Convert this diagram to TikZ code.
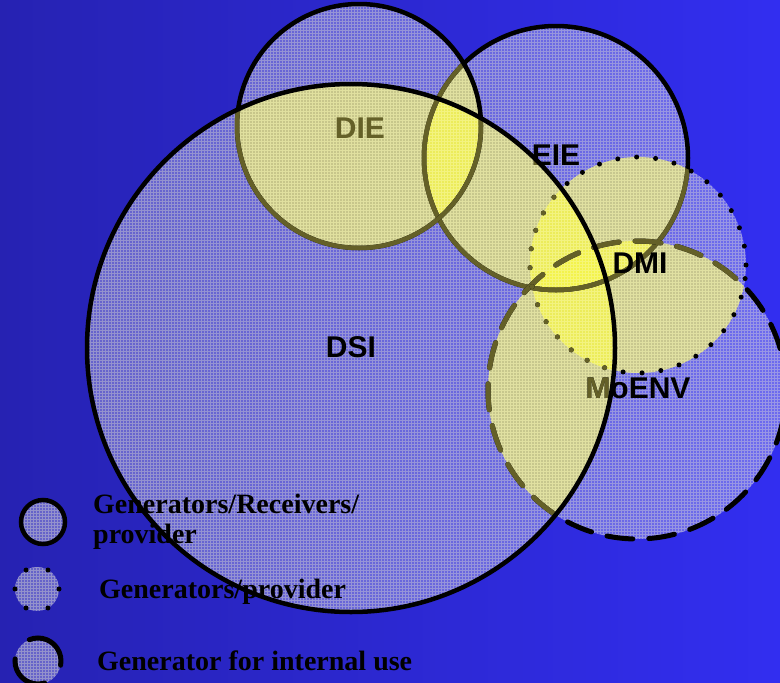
\documentclass[tikz,border=0pt]{standalone}
\usepackage{fontspec}
\setmainfont{Liberation Serif}
\setsansfont{Liberation Sans}

\definecolor{bgleft}{RGB}{38,34,178}
\definecolor{bgright}{RGB}{50,46,240}
\definecolor{setbase}{RGB}{215,215,238}
\definecolor{setgrid}{RGB}{255,255,210}
\definecolor{setover}{RGB}{245,245,70}
\definecolor{setdim}{RGB}{100,96,40}

\newcommand{\setEIE}{(556,158) circle[radius=132pt]}
\newcommand{\setDIE}{(359,126) circle[radius=122pt]}
\newcommand{\setMoENV}{(637,390) circle[radius=149pt]}
\newcommand{\setDMI}{(638,265) circle[radius=108pt]}
\newcommand{\setDSI}{(351,348) circle[radius=264pt]}

\begin{document}
\begin{tikzpicture}[x=1pt,y=-1pt]
			\tikzstyle{setfill}=[fill=setbase,fill opacity=0.36]
			\tikzstyle{setmesh}=[draw=setgrid,line width=0.6pt,draw opacity=0.3]
			\tikzstyle{overlap}=[fill=setover,fill opacity=0.55]
			\tikzstyle{solidset}=[draw=black,line width=4.5pt]
			\tikzstyle{dottedset}=[draw=black,line width=5pt,line cap=round,dash pattern=on 0pt off 19pt]
			\tikzstyle{dashedset}=[draw=black,line width=5pt,line cap=round,dash pattern=on 26pt off 16pt]
			\tikzstyle{setlabel}=[font=\sffamily\bfseries\fontsize{30}{30}\selectfont]
			\tikzstyle{legendtext}=[font=\bfseries\fontsize{28}{30}\selectfont,anchor=base west,inner sep=0pt]

			\useasboundingbox (0,0) rectangle (780,683);
			\shade[left color=bgleft,right color=bgright] (0,0) rectangle (780,683);

			% fills, back to front
			\fill[setfill] \setEIE;
			\begin{scope} \clip \setEIE; \draw[setmesh,step=3pt] (0,0) grid (780,683); \end{scope}

			\fill[setfill] \setDIE;
			\begin{scope} \clip \setDIE; \fill[overlap] \setEIE;
				\draw[setmesh,step=3pt] (0,0) grid (780,683); \end{scope}

			\fill[setfill] \setMoENV;
			\begin{scope} \clip \setMoENV; \fill[overlap] \setEIE;
				\draw[setmesh,step=3pt] (0,0) grid (780,683); \end{scope}

			\fill[setfill] \setDMI;
			\begin{scope} \clip \setDMI; \fill[overlap] \setEIE; \fill[overlap] \setMoENV;
				\draw[setmesh,step=3pt] (0,0) grid (780,683); \end{scope}

			\fill[setfill] \setDSI;
			\begin{scope} \clip \setDSI;
				\fill[overlap] \setEIE; \fill[overlap] \setDIE;
				\fill[overlap] \setMoENV; \fill[overlap] \setDMI;
				\draw[setmesh,step=3pt] (0,0) grid (780,683);
			\end{scope}

			% outlines and names, faded where a later set lies on top
			\draw[solidset] \setEIE;
			\node[setlabel] (lblEIE) at (556,155) {EIE};
			\begin{scope} \clip \setDIE; \draw[solidset,draw=setdim] \setEIE; \end{scope}
			\begin{scope} \clip \setMoENV; \draw[solidset,draw=setdim] \setEIE; \end{scope}
			\begin{scope} \clip \setDMI; \draw[solidset,draw=setdim] \setEIE; \end{scope}
			\begin{scope} \clip \setDSI; \draw[solidset,draw=setdim] \setEIE;
				\node[setlabel,text=setdim] (lblEIEdim) at (556,155) {EIE}; \end{scope}

			\draw[solidset] \setDIE;
			\begin{scope} \clip \setDSI; \draw[solidset,draw=setdim] \setDIE; \end{scope}
			\node[setlabel,text=setdim] (lblDIE) at (360,128) {DIE};

			\draw[dashedset] \setMoENV;
			\node[setlabel] (lblMoENV) at (638,388) {MoENV};
			\begin{scope} \clip \setDMI; \draw[dashedset,draw=setdim] \setMoENV; \end{scope}
			\begin{scope} \clip \setDSI; \draw[dashedset,draw=setdim] \setMoENV;
				\node[setlabel,text=setdim] (lblMoENVdim) at (638,388) {MoENV}; \end{scope}

			\draw[dottedset] \setDMI;
			\begin{scope} \clip \setDSI; \draw[dottedset,draw=setdim] \setDMI; \end{scope}
			\node[setlabel] (lblDMI) at (640,263) {DMI};

			\draw[solidset] \setDSI;
			\node[setlabel] (lblDSI) at (351,347) {DSI};

			% legend
			\foreach \cx/\cy/\r in {43/522/22,37/589/22,38/661/23}{
				\fill[setfill] (\cx,\cy) circle[radius=\r pt];
				\begin{scope} \clip (\cx,\cy) circle[radius=\r pt];
					\draw[setmesh,step=3pt] (0,480) grid (80,683); \end{scope}
			}
			\draw[solidset] (43,522) circle[radius=22pt];
			\draw[dottedset,dash pattern=on 0pt off 23pt] (37,589) circle[radius=22pt];
			\draw[dashedset,dash pattern=on 45pt off 25pt] (38,661) circle[radius=23pt];

			\node[legendtext] (legAll) at (93,513) {Generators/Receivers/};
			\node[legendtext] (legAllb) at (93,543) {provider};
			\node[legendtext] (legGen) at (99,598) {Generators/provider};
			\node[legendtext] (legInt) at (97,670) {Generator for internal use};
\end{tikzpicture}
\end{document}
